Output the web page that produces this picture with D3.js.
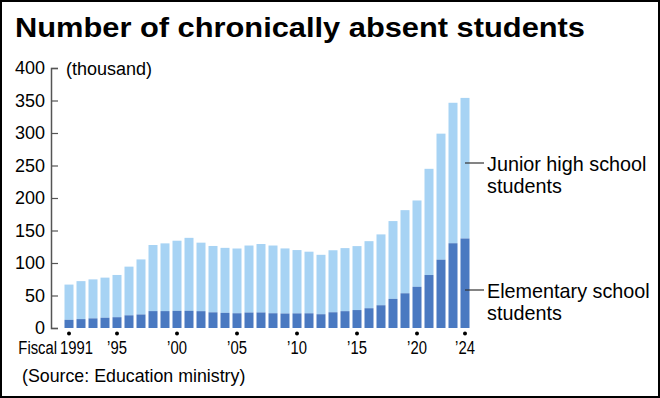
<!DOCTYPE html>
<html>
<head>
<meta charset="utf-8">
<script src="https://cdn.jsdelivr.net/npm/d3@7"></script>
<style>
  body { margin: 0; background: #fff; }
  svg { display: block; }
</style>
</head>
<body>
<div id="mydiv"></div>
<script>
// fiscal years 1991..2024, values in thousand students
var years = [1991,1992,1993,1994,1995,1996,1997,1998,1999,2000,2001,2002,2003,2004,2005,2006,2007,
  2008,2009,2010,2011,2012,2013,2014,2015,2016,2017,2018,2019,2020,2021,2022,2023,2024];
var elementary = [12.6,13.7,14.8,15.8,16.6,19.5,20.8,26.0,26.0,26.4,26.5,25.9,24.1,23.3,22.7,23.8,23.9,
  22.7,22.3,22.5,22.6,21.2,24.2,25.9,27.6,30.4,35.0,44.8,53.4,63.4,81.5,105.1,130.4,137.7];
var juniorHigh = [54.2,58.4,60.0,61.7,65.0,74.9,84.7,101.7,104.2,107.9,112.2,105.4,102.1,100.0,99.6,103.1,105.3,
  104.2,100.1,97.4,94.8,91.4,95.4,97.0,98.4,103.2,109.0,119.7,127.9,132.8,163.4,193.9,216.1,216.3];
var yTicks = [0,50,100,150,200,250,300,350,400];
var xLabelYears = [1991,1995,2000,2005,2010,2015,2020,2024];

var W = 660, H = 398;
var font = "'Liberation Sans',Arial,sans-serif";

var svg = d3.select("#mydiv").append("svg")
  .attr("width", W).attr("height", H);

svg.append("rect").attr("x", 1).attr("y", 1).attr("width", W - 2).attr("height", H - 2)
  .attr("fill", "white").attr("stroke", "black").attr("stroke-width", 2);

svg.append("text").attr("x", 15).attr("y", 37)
  .attr("textLength", 570).attr("lengthAdjust", "spacingAndGlyphs")
  .style("font-family", font).style("font-weight", "bold").style("font-size", "28px")
  .text("Number of chronically absent students");

var x = d3.scaleBand().domain(years).range([63, 471]).paddingInner(0.25).paddingOuter(0.125);
var y = d3.scaleLinear().domain([0, 400]).range([328, 68]);

// y axis
var yaxis = svg.append("g").attr("transform", "translate(51,0)")
  .call(d3.axisRight(y).tickValues(yTicks).tickSize(7).tickFormat(""));
yaxis.select("path").attr("stroke", "#555").attr("stroke-width", 1.5);
yaxis.selectAll("line").attr("stroke", "#555").attr("stroke-width", 1.2);

svg.selectAll(".ylab").data(yTicks).enter().append("text")
  .attr("class", "ylab")
  .attr("x", 45).attr("y", function(d) { return y(d) + 6; })
  .attr("text-anchor", "end")
  .style("font-family", font).style("font-size", "18px")
  .text(function(d) { return d; });

svg.append("text").attr("x", 66).attr("y", 75)
  .style("font-family", font).style("font-size", "18px")
  .text("(thousand)");

// stacked bars
var stack = years.map(function(yr, i) { return {year: yr, elem: elementary[i], jh: juniorHigh[i]}; });

svg.selectAll(".bar-jh").data(stack).enter().append("rect")
  .attr("class", "bar-jh")
  .attr("x", function(d) { return x(d.year); })
  .attr("width", x.bandwidth())
  .attr("y", function(d) { return y(d.elem + d.jh); })
  .attr("height", function(d) { return y(d.elem) - y(d.elem + d.jh); })
  .attr("fill", "#a7d3f4");

svg.selectAll(".bar-el").data(stack).enter().append("rect")
  .attr("class", "bar-el")
  .attr("x", function(d) { return x(d.year); })
  .attr("width", x.bandwidth())
  .attr("y", function(d) { return y(d.elem); })
  .attr("height", function(d) { return y(0) - y(d.elem); })
  .attr("fill", "#4a79c1");

// x tick dots + labels (condensed look via scaleX)
svg.selectAll(".xdot").data(xLabelYears).enter().append("circle")
  .attr("class", "xdot")
  .attr("cx", function(d) { return x(d) + x.bandwidth() / 2; })
  .attr("cy", 333.5).attr("r", 2).attr("fill", "black");

svg.selectAll(".xlab").data(xLabelYears).enter().append("text")
  .attr("class", "xlab")
  .attr("transform", function(d) {
    var px = d == 1991 ? 60 : x(d) + x.bandwidth() / 2;
    return "translate(" + px + ",354) scale(0.78,1)";
  })
  .attr("text-anchor", function(d) { return d == 1991 ? "start" : "middle"; })
  .style("font-family", font).style("font-size", "19px")
  .text(function(d) { return d == 1991 ? "1991" : "\u2019" + String(d).slice(2); });

svg.append("text").attr("transform", "translate(57,354) scale(0.78,1)").attr("text-anchor", "end")
  .style("font-family", font).style("font-size", "19px")
  .text("Fiscal");

// legend labels
var last = stack[stack.length - 1];
var lx = x(last.year) + x.bandwidth() / 2;
var legend = [
  {label: ["Junior high school", "students"], yv: 163},
  {label: ["Elementary school", "students"], yv: 290}
];
legend.forEach(function(l) {
  svg.append("line").attr("x1", lx).attr("x2", lx + 19)
    .attr("y1", l.yv).attr("y2", l.yv).attr("stroke", "#333").attr("stroke-width", 1.2);
  svg.append("text").attr("x", 487).attr("y", l.yv + 8)
    .style("font-family", font).style("font-size", "19.8px")
    .text(l.label[0]);
  svg.append("text").attr("x", 487).attr("y", l.yv + 30)
    .style("font-family", font).style("font-size", "19.8px")
    .text(l.label[1]);
});

svg.append("text").attr("x", 22).attr("y", 382)
  .style("font-family", font).style("font-size", "17.8px")
  .text("(Source: Education ministry)");
</script>
</body>
</html>
